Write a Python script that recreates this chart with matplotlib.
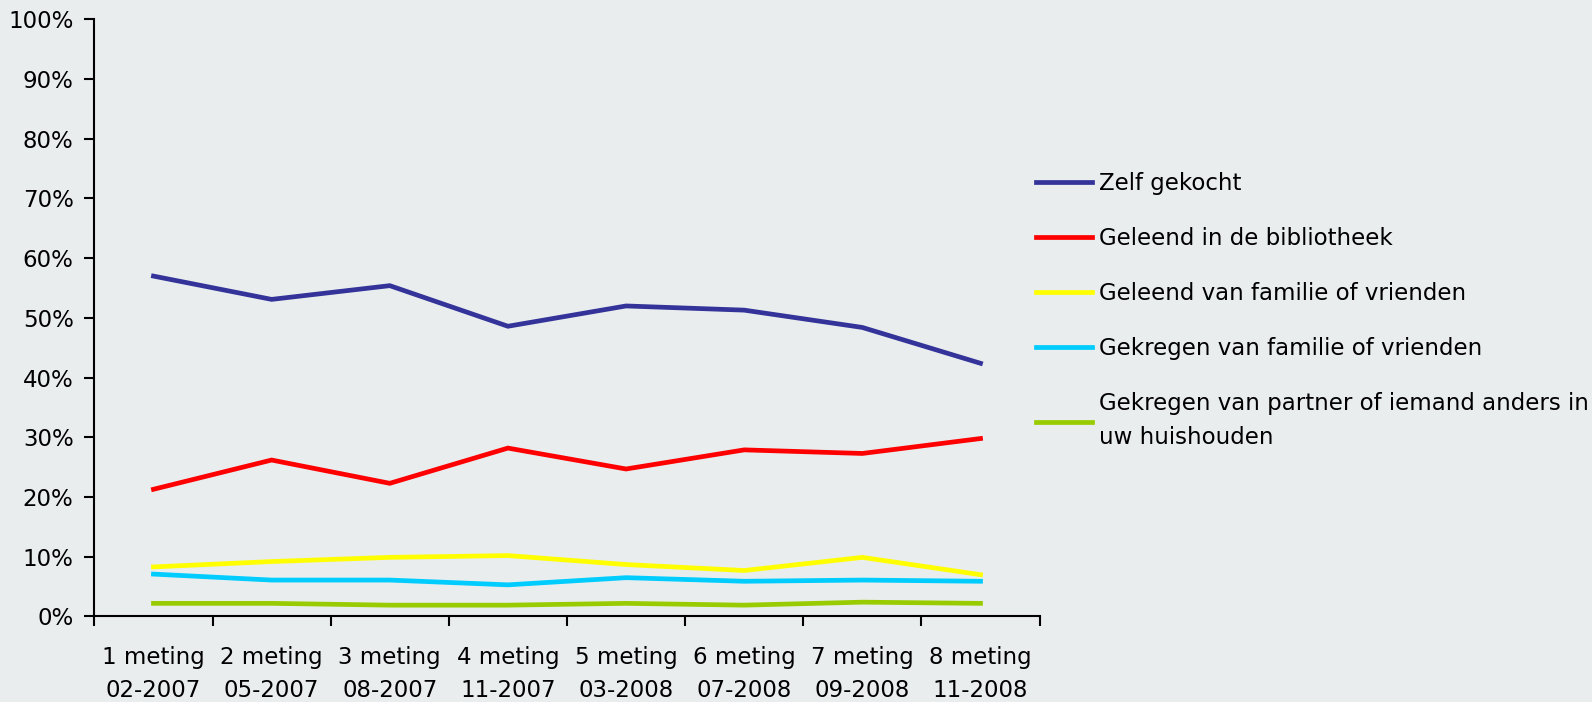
import numpy as np
import matplotlib.pyplot as plt
from matplotlib.ticker import FixedLocator, PercentFormatter

plt.rcParams['font.family'] = ['DejaVu Sans']

metingen = ['1 meting\n02-2007', '2 meting\n05-2007', '3 meting\n08-2007', '4 meting\n11-2007',
            '5 meting\n03-2008', '6 meting\n07-2008', '7 meting\n09-2008', '8 meting\n11-2008']

zelf_gekocht = [57.0, 53.1, 55.4, 48.6, 52.0, 51.3, 48.4, 42.4]
geleend_bieb = [21.3, 26.2, 22.3, 28.2, 24.7, 27.9, 27.3, 29.8]
geleend_familie = [8.3, 9.2, 9.9, 10.2, 8.7, 7.7, 9.9, 7.0]
gekregen_familie = [7.1, 6.1, 6.1, 5.3, 6.5, 5.9, 6.1, 5.9]
gekregen_partner = [2.2, 2.2, 1.9, 1.9, 2.2, 1.9, 2.4, 2.2]

series = [
    ('Zelf gekocht', zelf_gekocht, '#333399'),
    ('Geleend in de bibliotheek', geleend_bieb, '#FF0000'),
    ('Geleend van familie of vrienden', geleend_familie, '#FFFF00'),
    ('Gekregen van familie of vrienden', gekregen_familie, '#00CCFF'),
    ('Gekregen van partner of iemand anders in\nuw huishouden', gekregen_partner, '#99CC00'),
]

bg = '#E9EDEE'
fs = 16.5
fig = plt.figure(figsize=(15.92, 7.02), dpi=100, facecolor=bg)
ax = fig.add_axes([0.0593, 0.1218, 0.5937, 0.8507])
ax.set_facecolor(bg)

x = np.arange(1, len(metingen) + 1)
for label, vals, color in series:
    ax.plot(x, vals, color=color, lw=3.4, label=label, solid_joinstyle='miter')

ax.set_xlim(0.5, len(metingen) + 0.5)
ax.set_ylim(0, 100)

# ticks between categories, labels centred under each meting
ax.xaxis.set_major_locator(FixedLocator(np.arange(0.5, len(metingen) + 1)))
ax.xaxis.set_minor_locator(FixedLocator(x))
ax.set_xticklabels([], minor=False)
ax.set_xticklabels(metingen, minor=True, fontsize=fs, linespacing=1.6)
ax.tick_params(axis='x', which='major', direction='out', length=7, width=1.5)
ax.tick_params(axis='x', which='minor', length=0, pad=21)

ax.set_yticks(np.arange(0, 101, 10))
ax.yaxis.set_major_formatter(PercentFormatter(decimals=0))
ax.tick_params(axis='y', direction='out', length=7, width=1.5, pad=8, labelsize=fs)

for side in ['top', 'right']:
    ax.spines[side].set_visible(False)
for side in ['left', 'bottom']:
    ax.spines[side].set_linewidth(1.5)

leg = fig.legend(loc='upper left', bbox_to_anchor=(0.645, 0.768), frameon=False,
                 fontsize=fs, handlelength=2.45, handletextpad=0.3, labelspacing=1.40,
                 borderaxespad=0)
for t in leg.get_texts():
    t.set_linespacing(1.6)

fig.savefig('out.png', dpi=100, facecolor=bg)
